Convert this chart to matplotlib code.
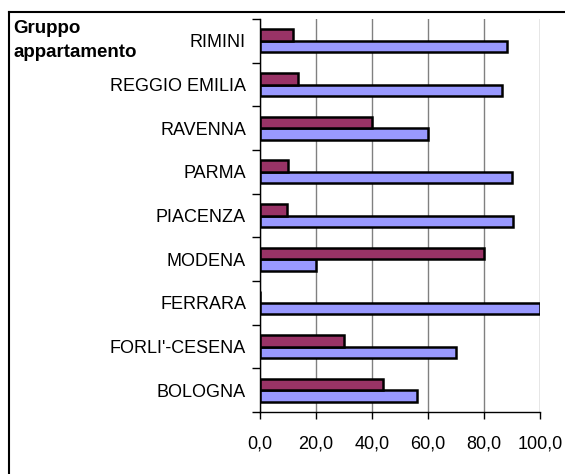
import numpy as np
import matplotlib
matplotlib.use('Agg')
import matplotlib.pyplot as plt
from matplotlib.lines import Line2D

# dati
citta = ['BOLOGNA', "FORLI'-CESENA", 'FERRARA', 'MODENA', 'PIACENZA',
         'PARMA', 'RAVENNA', 'REGGIO EMILIA', 'RIMINI']
serie_blu = [56.0, 70.0, 100.0, 20.0, 90.5, 90.0, 60.0, 86.4, 88.1]
serie_viola = [44.0, 30.0, 0.0, 80.0, 9.5, 10.0, 40.0, 13.6, 11.9]
tick_x = [0, 20, 40, 60, 80, 100]

plt.rcParams['font.family'] = ['Liberation Sans', 'DejaVu Sans']

fig = plt.figure(figsize=(5.65, 4.74), dpi=100)
W, H = 565, 474
ax = fig.add_axes([260 / W, 1 - 412 / H, 280 / W, 393 / H])

y = np.arange(len(citta))
h = 0.265
ax.barh(y - h / 2, serie_blu, height=h, color='#9999FF',
        edgecolor='black', linewidth=1.8, zorder=3)
ax.barh(y + h / 2, serie_viola, height=h, color='#993366',
        edgecolor='black', linewidth=1.8, zorder=3)

ax.set_xlim(0, 100)
ax.set_ylim(-0.5, len(citta) - 0.5)
ax.set_xticks(tick_x)
ax.set_xticklabels([f'{v:.1f}'.replace('.', ',') for v in tick_x], fontsize=13)
ax.xaxis.grid(True, color='#808080', linewidth=1, zorder=0)

# etichette categorie al centro, tacche ai bordi
ax.set_yticks(np.arange(-0.5, len(citta), 1.0))
ax.set_yticklabels([])
ax.set_yticks(y, minor=True)
ax.set_yticklabels(citta, minor=True, fontsize=13)
ax.tick_params(axis='y', which='minor', length=0, pad=10)
ax.tick_params(axis='y', which='major', length=6, width=1, direction='out')
ax.tick_params(axis='x', length=5, width=1, direction='out', pad=12)

for s in ['top', 'right']:
    ax.spines[s].set_visible(False)
for s in ['left', 'bottom']:
    ax.spines[s].set_linewidth(1)
    ax.spines[s].set_zorder(4)

# cornice esterna
fig.add_artist(Line2D([9 / W, 9 / W], [0, 1 - 12 / H], transform=fig.transFigure,
                      color='black', linewidth=1.5))
fig.add_artist(Line2D([9 / W, 1], [1 - 12 / H, 1 - 12 / H], transform=fig.transFigure,
                      color='black', linewidth=1.5))

fig.text(13 / W, 1 - 33 / H, 'Gruppo', fontsize=13.5, fontweight='bold',
         ha='left', va='baseline')
fig.text(14 / W, 1 - 57 / H, 'appartamento', fontsize=13.5, fontweight='bold',
         ha='left', va='baseline')

fig.savefig('out.png', dpi=100)
